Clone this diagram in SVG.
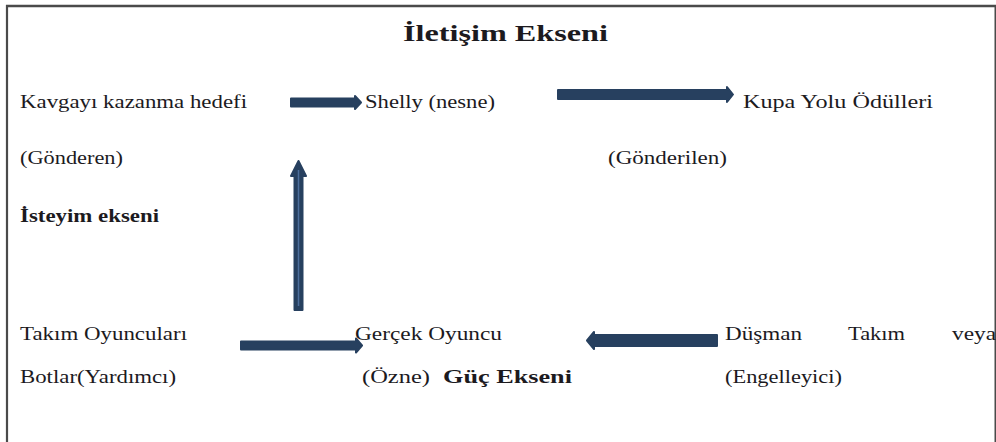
<svg xmlns="http://www.w3.org/2000/svg" width="996" height="442" viewBox="0 0 996 442">
  <style>
    .t { font-family: "Liberation Serif", "Times New Roman", serif; font-size: 18px; fill: #1c1a1e; }
    .b { font-weight: bold; }
    .title { font-size: 24px; }
    .arrow { fill: #27405f; stroke: #27405f; stroke-width: 2; stroke-linejoin: round; }
    .hl { stroke: #4d6f9c; stroke-width: 1.5; fill: none; }
    .frame { stroke: #4a4a4a; fill: none; }
  </style>
  <rect x="0" y="0" width="996" height="442" fill="#ffffff"/>
  <g id="frame">
    <line class="frame" x1="6" y1="6" x2="996" y2="6" stroke-width="2.5"/>
    <line class="frame" x1="7" y1="5" x2="7" y2="442" stroke-width="2.2"/>
    <line class="frame" x1="995.3" y1="5" x2="995.3" y2="442" stroke-width="1.6"/>
  </g>
  <g id="title">
    <text class="t b title" x="403" y="41" textLength="205" lengthAdjust="spacingAndGlyphs">İletişim Ekseni</text>
  </g>
  <g id="connectors">
    <path class="arrow" d="M291,98.5 H355 V96 L361,102.5 L355,109 V106.5 H291 Z"/>
    <path class="arrow" d="M558,90 H727 V87 L733,94.5 L727,102 V99 H558 Z"/>
    <path class="arrow" d="M294.5,310 V176 H291 L298.5,161 L306,176 H302.5 V310 Z"/>
    <line class="hl" x1="298.5" y1="170" x2="298.5" y2="306"/>
    <path class="arrow" d="M241,341.5 H356 V338.5 L362,345.5 L356,352.5 V349.5 H241 Z"/>
    <path class="arrow" d="M717,335 H594 V332 L587,340.5 L594,349 V346 H717 Z"/>
  </g>
  <g id="gonderen">
    <text class="t" x="20" y="108" textLength="227" lengthAdjust="spacingAndGlyphs">Kavgayı kazanma hedefi</text>
    <text class="t" x="20" y="164" textLength="103" lengthAdjust="spacingAndGlyphs">(Gönderen)</text>
  </g>
  <g id="isteyim">
    <text class="t b" x="20" y="222" textLength="139" lengthAdjust="spacingAndGlyphs">İsteyim ekseni</text>
  </g>
  <g id="nesne">
    <text class="t" x="365" y="108" textLength="130" lengthAdjust="spacingAndGlyphs">Shelly (nesne)</text>
  </g>
  <g id="gonderilen">
    <text class="t" x="743" y="108" textLength="190" lengthAdjust="spacingAndGlyphs">Kupa Yolu Ödülleri</text>
    <text class="t" x="608" y="164" textLength="119" lengthAdjust="spacingAndGlyphs">(Gönderilen)</text>
  </g>
  <g id="yardimci">
    <text class="t" x="20" y="340" textLength="167" lengthAdjust="spacingAndGlyphs">Takım Oyuncuları</text>
    <text class="t" x="20" y="383" textLength="156" lengthAdjust="spacingAndGlyphs">Botlar(Yardımcı)</text>
  </g>
  <g id="ozne">
    <text class="t" x="355" y="340" textLength="147" lengthAdjust="spacingAndGlyphs">Gerçek Oyuncu</text>
    <text class="t" x="362" y="383" textLength="68" lengthAdjust="spacingAndGlyphs">(Özne)</text>
    <text class="t b" x="443" y="383" textLength="129" lengthAdjust="spacingAndGlyphs">Güç Ekseni</text>
  </g>
  <g id="engelleyici">
    <text class="t" x="725" y="340" textLength="77" lengthAdjust="spacingAndGlyphs">Düşman</text>
    <text class="t" x="848" y="340" textLength="57" lengthAdjust="spacingAndGlyphs">Takım</text>
    <text class="t" x="952" y="340" textLength="44" lengthAdjust="spacingAndGlyphs">veya</text>
    <text class="t" x="725" y="383" textLength="117" lengthAdjust="spacingAndGlyphs">(Engelleyici)</text>
  </g>
</svg>
